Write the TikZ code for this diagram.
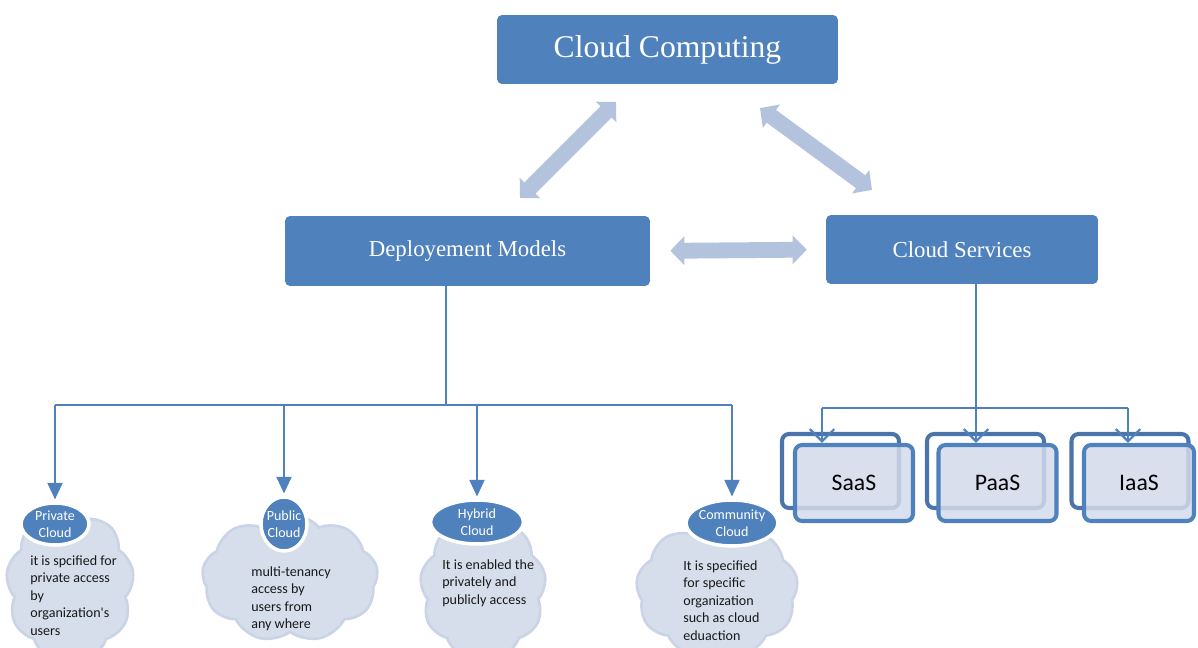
\documentclass[tikz,border=0pt]{standalone}
\usepackage{fontspec}
\setmainfont{Liberation Serif}
\newfontfamily\calib{Carlito}
\usetikzlibrary{arrows.meta,shapes.geometric,shapes.symbols}
\definecolor{mainblue}{HTML}{4F81BD}
\definecolor{lightarrow}{HTML}{B3C3DE}
\definecolor{cloudfill}{HTML}{D6DEEB}
\definecolor{cloudedge}{HTML}{CAD4E6}
\definecolor{boxfill}{HTML}{D3DAEA}
\definecolor{backedge}{HTML}{4A74AA}
\begin{document}
\begin{tikzpicture}[x=0.02cm,y=-0.02cm,
 topbox/.style={rectangle, rounded corners=0.1cm, fill=mainblue, text=white, inner sep=0, align=center},
 bigarrow/.style={lightarrow, line width=9pt, {Triangle[length=8pt,width=16pt]}-{Triangle[length=8pt,width=16pt]}},
 tree/.style={mainblue, line width=1.3pt},
 treearrow/.style={tree, -{Triangle[length=9.5pt,width=8.5pt]}},
 svcarrow/.style={tree, -{Straight Barb[length=7pt,width=14pt]}},
 backbox/.style={rectangle, rounded corners=0.14cm, draw=backedge, line width=2.3pt, fill=white, minimum width=2.34cm, minimum height=1.48cm},
 frontbox/.style={rectangle, rounded corners=0.14cm, draw=mainblue, line width=2.3pt, fill=boxfill, fill opacity=0.85, text opacity=1, minimum width=2.36cm, minimum height=1.52cm, font=\calib\fontsize{13.5}{16}\selectfont},
 cloudbody/.style={cloud, cloud puffs=9, cloud puff arc=100, draw=cloudedge, fill=cloudfill, line width=1.5pt, inner sep=0},
 ellbox/.style={ellipse, fill=mainblue, draw=white, line width=2pt, inner sep=0},
 elltext/.style={text=white, inner sep=0, align=center, font=\calib\fontsize{8}{9.6}\selectfont},
 desctext/.style={anchor=north west, align=left, inner sep=0, text=black!90, font=\calib\fontsize{8}{10}\selectfont}
]
\useasboundingbox (0,0) rectangle (1198,648);

% top level boxes
\node[topbox, minimum width=6.82cm, minimum height=1.38cm, font=\fontsize{18}{20}\selectfont] (cc) at (667.5,49.5) {Cloud Computing};
\node[topbox, minimum width=7.3cm, minimum height=1.4cm, font=\fontsize{13}{15}\selectfont] (dm) at (467.5,251) {Deployement Models};
\node[topbox, minimum width=5.44cm, minimum height=1.38cm, font=\fontsize{13}{15}\selectfont] (cs) at (962,249.5) {Cloud Services};

% light double arrows
\coordinate (a1s) at (520,198);
\coordinate (a1e) at (616,102);
\coordinate (a2s) at (760,108);
\coordinate (a2e) at (872,190);
\draw[bigarrow] (a1s) -- (a1e);
\draw[bigarrow] (a2s) -- (a2e);
\draw[bigarrow, shorten <=0.4cm, shorten >=0.38cm] (dm.east) -- (cs.west);

% clouds
\node[cloudbody, minimum width=2.56cm, minimum height=3.0cm] (c1) at (70,585) {};
\node[cloudbody, minimum width=3.52cm, minimum height=2.56cm] (c2) at (290,578) {};
\node[cloudbody, minimum width=2.52cm, minimum height=2.8cm] (c3) at (483,588) {};
\node[cloudbody, minimum width=3.24cm, minimum height=2.72cm] (c4) at (717,590) {};

% ellipses
\node[ellbox, minimum width=1.36cm, minimum height=0.84cm] (prl) at (55,524) {};
\node[ellbox, minimum width=0.92cm, minimum height=1.08cm] (pul) at (284,524) {};
\node[ellbox, minimum width=1.86cm, minimum height=0.88cm] (hyl) at (477,522) {};
\node[ellbox, minimum width=1.84cm, minimum height=0.92cm] (col) at (732,523) {};
\node[elltext] at (prl) {Private\\Cloud};
\node[elltext] at (pul) {Public\\Cloud};
\node[elltext] at (hyl) {Hybrid\\Cloud};
\node[elltext] at (col) {Community\\Cloud};

% descriptions
\node[desctext] (d1) at (30,555) {it is spcified for\\private access\\by\\organization's\\users};
\node[desctext] (d2) at (251,566) {multi-tenancy\\access by\\users from\\any where};
\node[desctext] (d3) at (442,559) {It is enabled the\\privately and\\publicly access};
\node[desctext] (d4) at (683,560) {It is specified\\for specific\\organization\\such as cloud\\eduaction};

% deployment tree
\coordinate (dmj) at (446,405);
\coordinate (bl) at (prl.north |- dmj);
\coordinate (br) at (col.north |- dmj);
\draw[tree] (dm.south -| dmj) -- (dmj);
\draw[tree] (bl) -- (br);
\draw[treearrow, shorten >=1pt] (bl) -- (prl.north);
\draw[treearrow, shorten >=1pt] (pul.north |- dmj) -- (pul.north);
\draw[treearrow, shorten >=1pt] (hyl.north |- dmj) -- (hyl.north);
\draw[treearrow, shorten >=1pt] (br) -- (col.north);

% service boxes
\node[backbox] (saasb) at (840.5,471) {};
\node[frontbox] (saas) at (854,483) {SaaS};
\node[backbox] (paasb) at (985.5,471) {};
\node[frontbox] (paas) at (997.5,483) {PaaS};
\node[backbox] (iaasb) at (1130,471) {};
\node[frontbox, minimum width=2.2cm] (iaas) at (1139,483) {IaaS};

% services tree
\coordinate (csj) at (976,408);
\coordinate (sl) at (822,408);
\coordinate (sr) at (1128,408);
\draw[tree] (cs.south -| csj) -- (csj);
\draw[tree] (sl) -- (sr);
\draw[svcarrow] (sl) -- (sl |- saas.north);
\draw[svcarrow] (csj) -- (csj |- paas.north);
\draw[svcarrow] (sr) -- (sr |- iaas.north);
\end{tikzpicture}
\end{document}
